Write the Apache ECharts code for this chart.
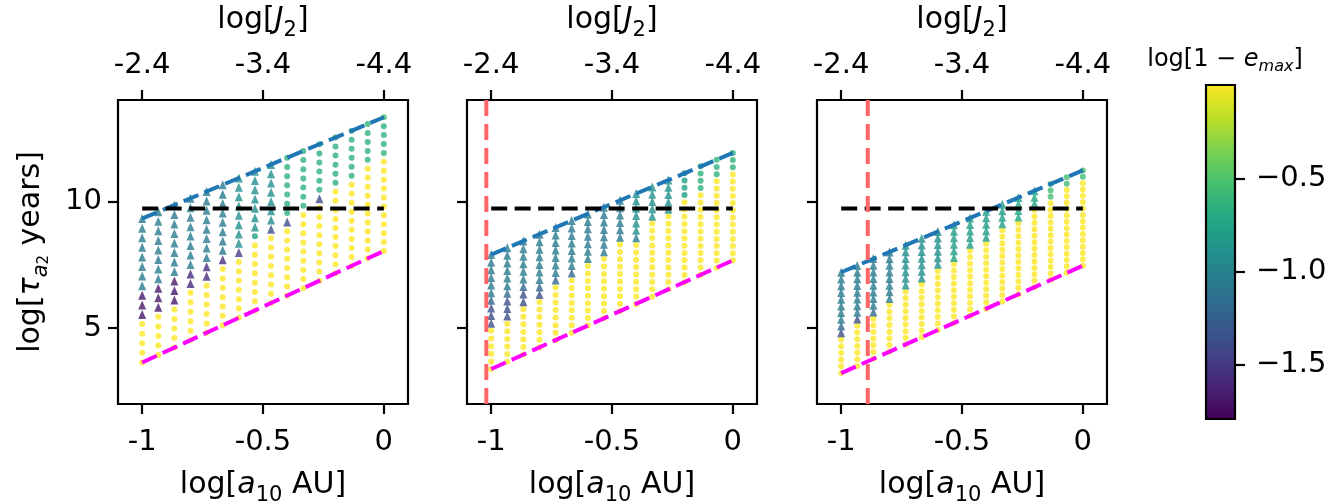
<!DOCTYPE html>
<html><head><meta charset="utf-8">
<script src="https://cdn.jsdelivr.net/npm/echarts@6/dist/echarts.min.js"></script>
<style>html,body{margin:0;padding:0;background:#fff}#c{width:1343px;height:501px}</style>
</head><body><div id="c"></div>
<script>
// ---------------- data ----------------
// column positions (log a10)
const colX = [-1, -0.9333, -0.8667, -0.8, -0.7333, -0.6667, -0.6, -0.5333, -0.4667, -0.4, -0.3333, -0.2667, -0.2, -0.1333, -0.0667, 0];
// per-column lowest / highest log tau of the grid
const p1Bottom = [3.64, 3.93, 4.23, 4.52, 4.81, 5.11, 5.40, 5.69, 5.99, 6.28, 6.57, 6.87, 7.16, 7.45, 7.75, 8.04];
const p1Top    = [9.32, 9.59, 9.85, 10.12, 10.39, 10.65, 10.92, 11.19, 11.45, 11.72, 11.99, 12.25, 12.52, 12.79, 13.05, 13.32];
const p2Bottom = [3.38, 3.67, 3.95, 4.24, 4.52, 4.81, 5.10, 5.38, 5.67, 5.95, 6.24, 6.53, 6.81, 7.10, 7.38, 7.67];
const p2Top    = [7.90, 8.17, 8.43, 8.70, 8.97, 9.24, 9.50, 9.77, 10.04, 10.31, 10.57, 10.84, 11.11, 11.38, 11.64, 11.91];
const p3Bottom = [3.22, 3.50, 3.79, 4.07, 4.35, 4.63, 4.92, 5.20, 5.48, 5.76, 6.05, 6.33, 6.61, 6.90, 7.18, 7.46];
const p3Top    = [7.20, 7.47, 7.74, 8.00, 8.27, 8.54, 8.81, 9.08, 9.34, 9.61, 9.88, 10.15, 10.42, 10.68, 10.95, 11.22];
// point classes per column, listed from the bottom of the column to its top (16 grid points)
const p1Codes = ['YYYYYPPPTTTTTTTT','YYYYYPPPTTTTTTTT','YYYYYPPPTTTTTTTT','YYYYYYQQTTTTTTTT','YYYYYYQQTTTTTTTT','YYYYYYYQTTTTTTTT','YYYYYYYRUUUUUUUU','YYYYYYYYCUUUUUUU','YYYYYYYYBUUUUUUU','YYYYYYYYBGGGGGGG','YYYYYYYYYGGGGGGG','YYYYYYYYYBGGGGGG','YYYYYYYYYYGGGGGG','YYYYYYYYYYGGGGGG','YYYYYYYYYYYGGGGG','YYYYYYYYYYYGGGGH'];
const p2Codes = ['YYYYYYBBBDTTTTTT','YYYYYYBBBDTTTTTT','YYYYYYYBBDTTTTTT','YYYYYYYBDTTTTTTT','YYYYYYYYDTTTTTTT','YYYYYYYYDTTTTTTT','YYYYYYYYYTTTTTTT','YYYYYYYYYTTTTTTT','YYYYYYYYYYTTTTTT','YYYYYYYYYTUUUUUU','YYYYYYYYYYYUUUUU','YYYYYYYYYYYUUUUU','YYYYYYYYYYYYCCCC','YYYYYYYYYYYYGGGG','YYYYYYYYYYYYYGGG','YYYYYYYYYYYYYGGG'];
const p3Codes = ['YYYYYYBDTTTTTTTT','YYYYYYYBTTTTTTTT','YYYYYYYDTTTTTTTT','YYYYYYYYTTTTTTTT','YYYYYYYYYUUUUUUU','YYYYYYYYYUUUUUUU','YYYYYYYYYYUUUUUU','YYYYYYYYYYVVVVVV','YYYYYYYYYYYVVVVV','YYYYYYYYYYYVVVVV','YYYYYYYYYYYYVVVV','YYYYYYYYYYYYWWWW','YYYYYYYYYYYYYWWW','YYYYYYYYYYYYYHHH','YYYYYYYYYYYYYYHH','YYYYYYYYYYYYYYHH'];
// class -> log[1 - e_max] value and marker kind
const codeKeys   = ['Y', 'P', 'Q', 'R', 'B', 'D', 'T', 'U', 'V', 'W', 'C', 'G', 'H'];
const codeValues = [0, -1.66, -1.56, -1.48, -1.36, -1.2, -1.05, -0.9, -0.8, -0.72, -0.78, -0.64, -0.55];
const codeMarker = ['circle','triangle','triangle','triangle','triangle','triangle','triangle','triangle','triangle','triangle','circle','circle','circle'];
// reference lines
const blackLineY = 9.72;
const redLineX = [null, -1.02, -0.89];
// axis ticks
const bottomTickValues = [-1, -0.5, 0];
const bottomTickLabels = ['-1', '-0.5', '0'];
const topTickLabels = ['-2.4', '-3.4', '-4.4'];
const yTickValues = [5, 10];
const yTickLabels = ['5', '10'];
const cbMin = -1.79, cbMax = 0;
const cbTickValues = [-1.5, -1.0, -0.5];
const cbTickLabels = ['\u22121.5', '\u22121.0', '\u22120.5'];

// ---------------- styles ----------------
const viridis = ['#440154','#482475','#414487','#355f8d','#2a788e','#21918c','#22a884','#44bf70','#7ad151','#bddf26','#fde725'];
const FONT = 'DejaVu Sans';
const TICK_FS = 29;
const panelLeft = [118, 467, 817];
const PW = 290, PT = 100, PH = 304;

function fmt(values, labels) {
  return function (v) {
    const i = values.findIndex(t => Math.abs(t - v) < 1e-6);
    return i >= 0 ? labels[i] : '';
  };
}

const panels = [
  {bottom: p1Bottom, top: p1Top, codes: p1Codes},
  {bottom: p2Bottom, top: p2Top, codes: p2Codes},
  {bottom: p3Bottom, top: p3Top, codes: p3Codes}
];

const grid = [], xAxis = [], yAxis = [], series = [];
const axisLineStyle = {show: false, onZero: false};
const tickStyle = {show: true, inside: false, length: 10, lineStyle: {color: '#000', width: 2.2}};

const subRich = {
  n: {fontFamily: FONT, fontSize: 30, color: '#000', lineHeight: 42},
  i: {fontFamily: FONT, fontSize: 30, color: '#000', fontStyle: 'italic', lineHeight: 42},
  s: {fontFamily: FONT, fontSize: 21, color: '#000', lineHeight: 24, verticalAlign: 'bottom'},
  si: {fontFamily: FONT, fontSize: 21, color: '#000', fontStyle: 'italic', lineHeight: 24, verticalAlign: 'bottom'},
  ss: {fontFamily: FONT, fontSize: 15, color: '#000', lineHeight: 12, verticalAlign: 'bottom'}
};

panels.forEach((p, pi) => {
  grid.push({left: panelLeft[pi], top: PT, width: PW, height: PH, outerBoundsMode: 'none', containLabel: false,
    show: true, borderColor: '#000', borderWidth: 2.2, backgroundColor: 'transparent'});
  // bottom axis
  xAxis.push({
    type: 'value', gridIndex: pi, position: 'bottom', min: -1.1, max: 0.1,
    axisLine: axisLineStyle, splitLine: {show: false},
    axisTick: Object.assign({customValues: bottomTickValues}, tickStyle),
    axisLabel: {customValues: bottomTickValues, formatter: fmt(bottomTickValues, bottomTickLabels), fontFamily: FONT, fontSize: TICK_FS, color: '#000', margin: 24},
    name: '{n|log[}{i|a}{s|10}{n| AU]}', nameLocation: 'middle', nameGap: 60,
    nameTextStyle: {rich: subRich}
  });
  // top axis (J2)
  xAxis.push({
    type: 'value', gridIndex: pi, position: 'top', min: -1.1, max: 0.1,
    axisLine: axisLineStyle, splitLine: {show: false},
    axisTick: Object.assign({customValues: bottomTickValues}, tickStyle),
    axisLabel: {customValues: bottomTickValues, formatter: fmt(bottomTickValues, topTickLabels), fontFamily: FONT, fontSize: TICK_FS, color: '#000', margin: 20},
    name: '{n|log[}{i|J}{s|2}{n|]}', nameLocation: 'middle', nameGap: 59,
    nameTextStyle: {rich: subRich}
  });
  yAxis.push({
    type: 'value', gridIndex: pi, min: 2, max: 14,
    axisLine: axisLineStyle, splitLine: {show: false},
    axisTick: Object.assign({customValues: yTickValues}, tickStyle),
    axisLabel: {show: pi === 0, customValues: yTickValues, formatter: fmt(yTickValues, yTickLabels), fontFamily: FONT, fontSize: TICK_FS, color: '#000', margin: 16},
    name: pi === 0 ? '{n|log[}{i|τ}{si|a}{ss|2}{n| years]}' : '',
    nameLocation: 'middle', nameRotate: 90, nameGap: 66,
    nameTextStyle: {rich: subRich}
  });

  // scatter points built from the grid
  const pts = [];
  colX.forEach((x, ci) => {
    const code = p.codes[ci];
    for (let k = 0; k < code.length; k++) {
      const ki = codeKeys.indexOf(code[k]);
      const y = p.bottom[ci] + (p.top[ci] - p.bottom[ci]) * k / (code.length - 1);
      const tri = codeMarker[ki] === 'triangle';
      pts.push({value: [x, y, codeValues[ki]], symbol: tri ? 'triangle' : 'circle', symbolSize: tri ? [8, 9] : 6});
    }
  });
  series.push({type: 'scatter', xAxisIndex: pi * 2, yAxisIndex: pi, data: pts, z: 2, silent: true, animation: false});

  const lineBase = {type: 'line', xAxisIndex: pi * 2, yAxisIndex: pi, symbol: 'none', silent: true, animation: false, z: 5};
  series.push(Object.assign({}, lineBase, {data: [[colX[0], p.top[0]], [colX[15], p.top[15]]], lineStyle: {color: '#1f77b4', width: 4, type: [16, 6.5], cap: 'butt'}}));
  series.push(Object.assign({}, lineBase, {data: [[colX[0], p.bottom[0]], [colX[15], p.bottom[15]]], lineStyle: {color: '#ff00ff', width: 4, type: [16, 6.5], cap: 'butt'}}));
  series.push(Object.assign({}, lineBase, {data: [[colX[0], blackLineY], [colX[15], blackLineY]], lineStyle: {color: '#000', width: 4, type: [16, 7.5], cap: 'butt'}, z: 6}));
  if (redLineX[pi] !== null) {
    series.push(Object.assign({}, lineBase, {data: [[redLineX[pi], 2], [redLineX[pi], 14]], lineStyle: {color: '#ff6666', width: 4, type: [16, 8], cap: 'butt'}, z: 7}));
  }
});

// colorbar
grid.push({left: 1206, top: 85, width: 29, height: 334, outerBoundsMode: 'none', containLabel: false, show: false});
xAxis.push({type: 'value', gridIndex: 3, min: 0, max: 1, show: false});
yAxis.push({
  type: 'value', gridIndex: 3, position: 'right', min: cbMin, max: cbMax,
  axisLine: {show: false, onZero: false}, splitLine: {show: false},
  axisTick: Object.assign({customValues: cbTickValues}, tickStyle),
  axisLabel: {customValues: cbTickValues, formatter: fmt(cbTickValues, cbTickLabels), fontFamily: FONT, fontSize: TICK_FS, color: '#000', margin: 21}
});
const cbStops = viridis.map((c, i) => ({offset: 1 - i / (viridis.length - 1), color: c}));
series.push({
  type: 'custom', xAxisIndex: 6, yAxisIndex: 3, silent: true, animation: false,
  data: [[0, cbMin]],
  renderItem: function (params, api) {
    const a = api.coord([0, cbMax]);
    const b = api.coord([1, cbMin]);
    return {type: 'rect', shape: {x: a[0], y: a[1], width: b[0] - a[0], height: b[1] - a[1]},
      style: {fill: new echarts.graphic.LinearGradient(0, 0, 0, 1, cbStops), stroke: '#000', lineWidth: 2.2}};
  }
});

const chart = echarts.init(document.getElementById('c'), null, {renderer: 'canvas'});
chart.setOption({
  animation: false,
  backgroundColor: '#fff',
  title: {
    text: '{n|log[1 \u2212 }{i|e}{si|max}{n|]}', left: 1220, top: 40, textAlign: 'center',
    textStyle: {fontWeight: 'normal', rich: {
      n: {fontFamily: FONT, fontSize: 24, fontWeight: 'normal', color: '#000', lineHeight: 30},
      i: {fontFamily: FONT, fontSize: 24, fontWeight: 'normal', color: '#000', fontStyle: 'italic', lineHeight: 30},
      si: {fontFamily: FONT, fontSize: 16, fontWeight: 'normal', color: '#000', fontStyle: 'italic', lineHeight: 16, verticalAlign: 'bottom'}
    }}
  },
  visualMap: {type: 'continuous', show: false, min: cbMin, max: cbMax, dimension: 2, seriesIndex: [0, 4, 9], inRange: {color: viridis}},
  grid: grid, xAxis: xAxis, yAxis: yAxis, series: series
});
</script></body></html>
